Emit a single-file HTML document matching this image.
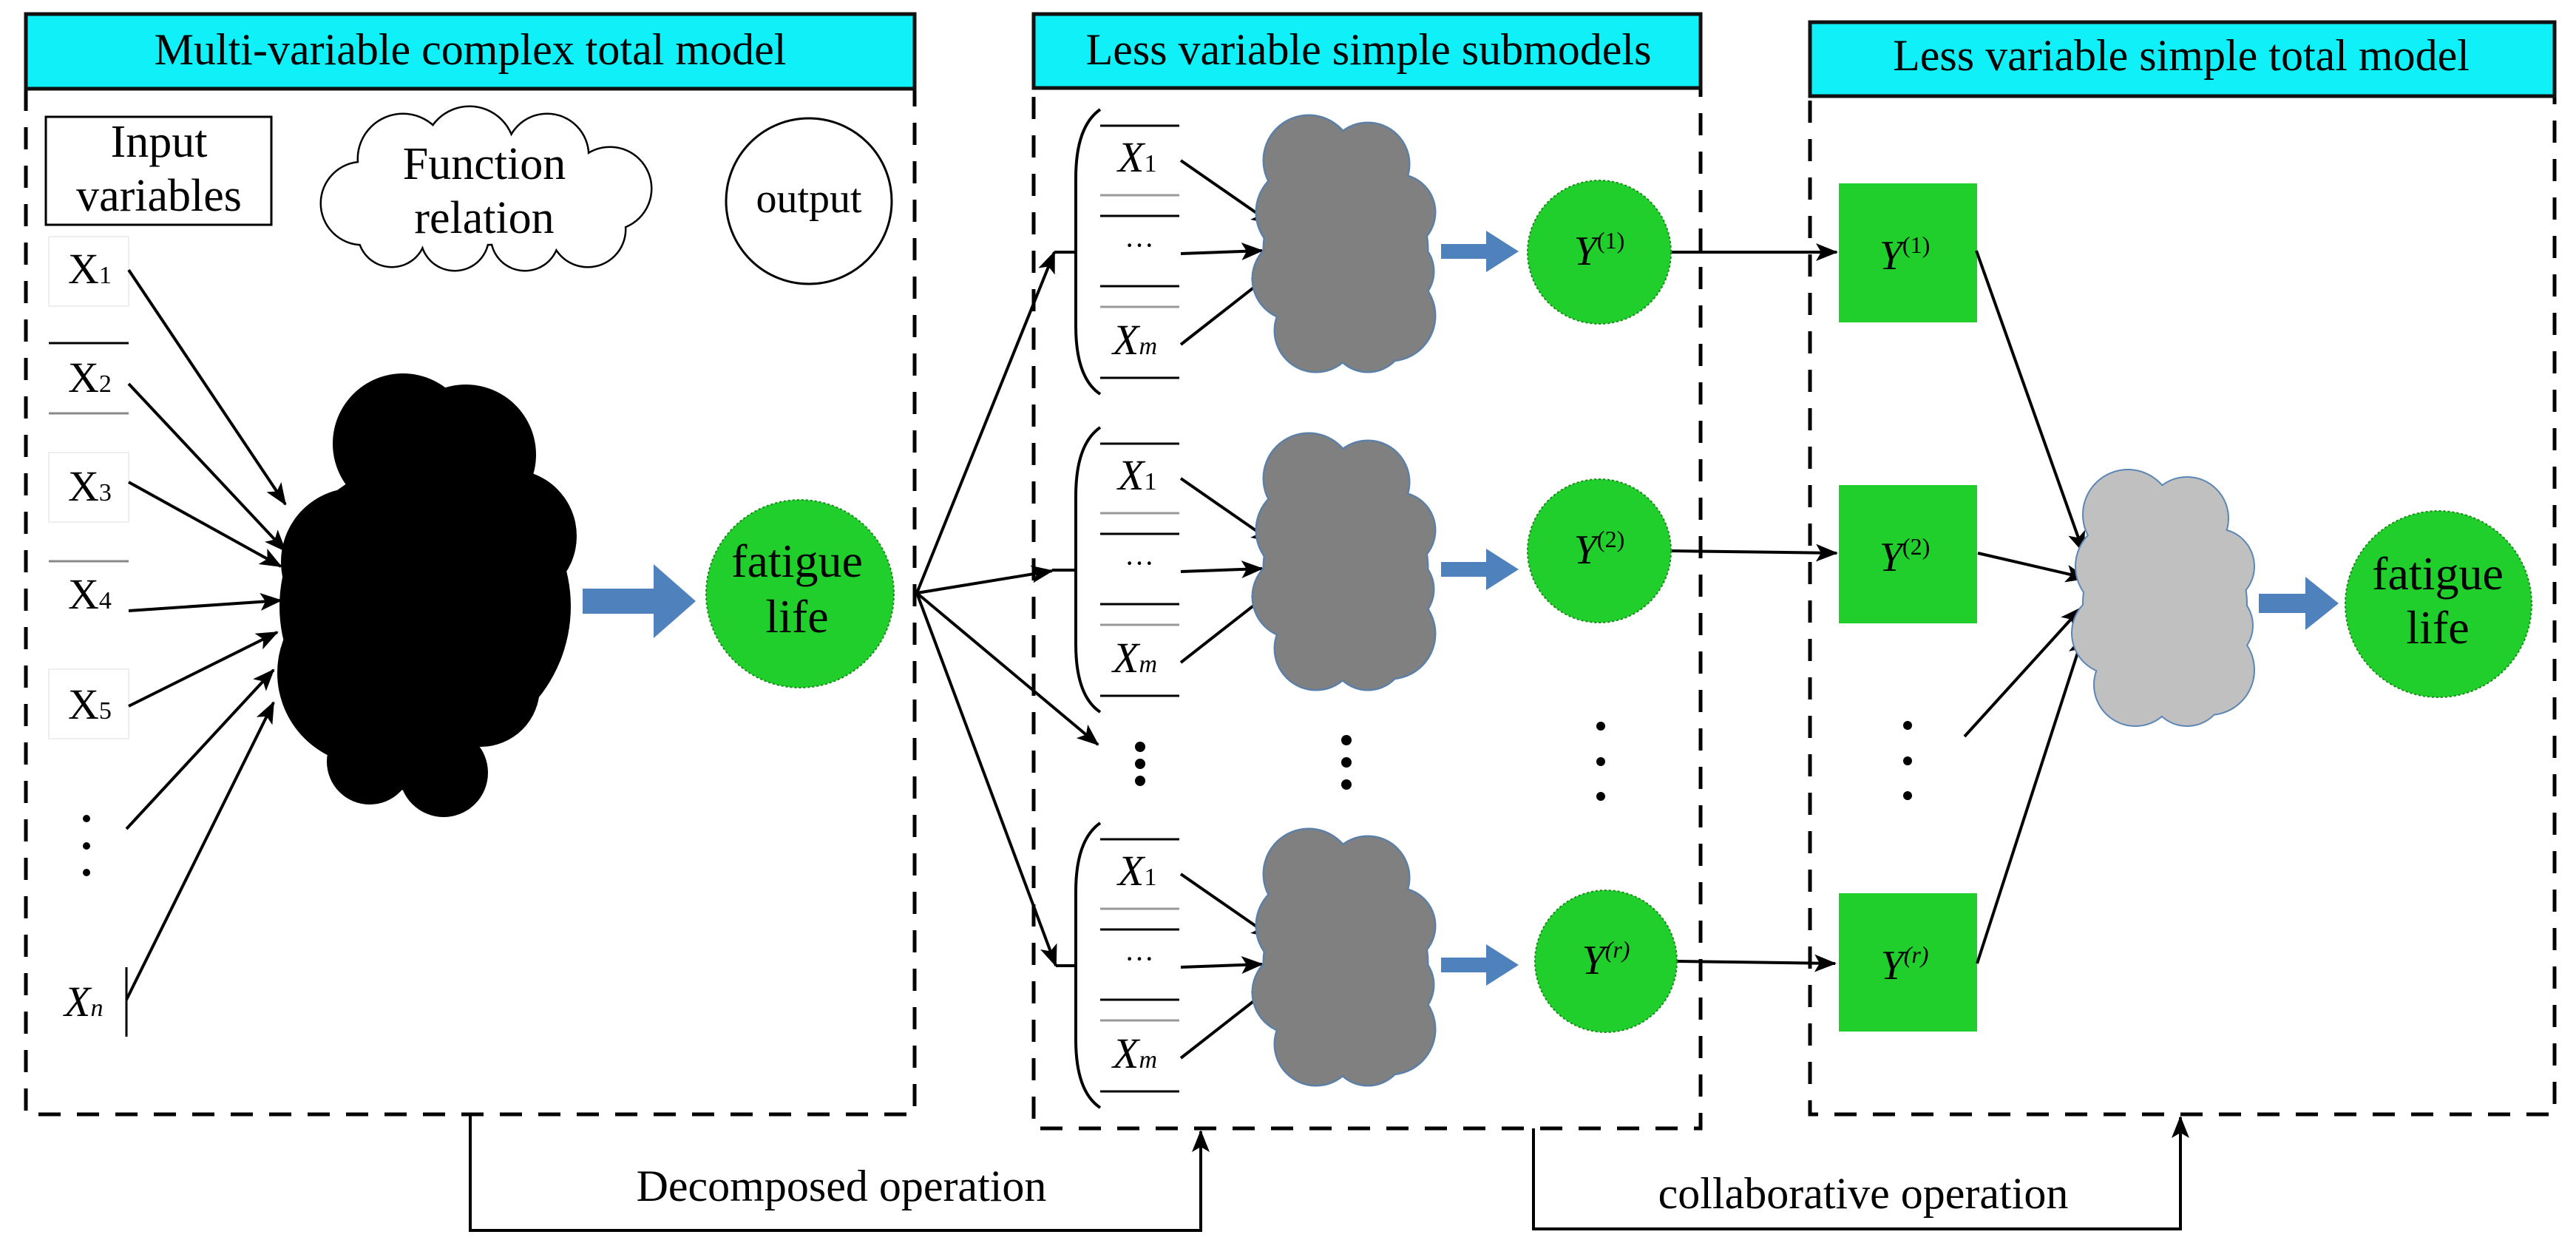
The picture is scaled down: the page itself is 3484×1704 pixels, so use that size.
<!DOCTYPE html>
<html><head><meta charset="utf-8"><style>html,body{margin:0;padding:0;background:#fff}svg{display:block}text,tspan{font-family:"Liberation Serif","Times New Roman",Times,"DejaVu Serif",serif !important}</style></head>
<body>
<svg xmlns="http://www.w3.org/2000/svg" width="3484" height="1704" viewBox="0 0 3484 1704" font-family="Liberation Serif, Times New Roman, serif">
<defs>
<marker id="ah" markerUnits="userSpaceOnUse" markerWidth="30" markerHeight="24" refX="28" refY="12" orient="auto"><path d="M0,0 L30,12 L0,24 L7,12 Z" fill="#000"/></marker>
<g id="cloud">
<circle cx="-50" cy="-120" r="60"/><circle cx="30" cy="-115" r="55"/><circle cx="70" cy="-50" r="50"/>
<circle cx="-60" cy="-50" r="60"/><circle cx="0" cy="0" r="110"/><circle cx="70" cy="30" r="48"/>
<circle cx="-70" cy="40" r="55"/><circle cx="60" cy="90" r="60"/><circle cx="-40" cy="110" r="55"/><circle cx="30" cy="115" r="50"/>
</g>
<g id="fcloud">
<circle cx="-165" cy="15" r="55"/><circle cx="-110" cy="-45" r="60"/><circle cx="-20" cy="-55" r="60"/><circle cx="85" cy="-50" r="55"/>
<circle cx="170" cy="-5" r="55"/><circle cx="140" cy="50" r="50"/><circle cx="55" cy="60" r="45"/><circle cx="-40" cy="60" r="45"/><circle cx="-125" cy="55" r="45"/>
<ellipse cx="0" cy="0" rx="170" ry="70"/>
</g>
</defs>

<rect x="35" y="120" width="1202" height="1387" fill="none" stroke="#000" stroke-width="5" stroke-dasharray="30 22"/>
<rect x="35" y="19" width="1202" height="101" fill="#0ff0f8" stroke="#111" stroke-width="5"/>
<text x="636" y="87" font-size="60" text-anchor="middle">Multi-variable complex total model</text>

<rect x="1398" y="119" width="902" height="1407" fill="none" stroke="#000" stroke-width="5" stroke-dasharray="30 22"/>
<rect x="1398" y="19" width="902" height="100" fill="#0ff0f8" stroke="#111" stroke-width="5"/>
<text x="1851" y="87" font-size="60" text-anchor="middle">Less variable simple submodels</text>

<rect x="2448" y="130" width="1007" height="1377" fill="none" stroke="#000" stroke-width="5" stroke-dasharray="30 22"/>
<rect x="2448" y="30" width="1007" height="100" fill="#0ff0f8" stroke="#111" stroke-width="5"/>
<text x="2950" y="95" font-size="60" text-anchor="middle">Less variable simple total model</text>

<path d="M636,1507 V1664 H1624 V1530" fill="none" stroke="#000" stroke-width="4" marker-end="url(#ah)"/>
<text x="1138" y="1624" font-size="60" text-anchor="middle">Decomposed operation</text>
<path d="M2074,1526 V1662 H2949 V1511" fill="none" stroke="#000" stroke-width="4" marker-end="url(#ah)"/>
<text x="2520" y="1634" font-size="60" text-anchor="middle">collaborative operation</text>

<rect x="62" y="158" width="305" height="146" fill="#fff" stroke="#000" stroke-width="3"/>
<text x="215" y="212" font-size="62" text-anchor="middle">Input</text>
<text x="215" y="285" font-size="62" text-anchor="middle">variables</text>
<g transform="translate(655,260)"><use href="#fcloud" fill="none" stroke="#000" stroke-width="5"/><use href="#fcloud" fill="#fff"/></g>
<text x="655" y="242" font-size="62" text-anchor="middle">Function</text>
<text x="655" y="315" font-size="62" text-anchor="middle">relation</text>
<circle cx="1094" cy="272" r="112" fill="#fff" stroke="#000" stroke-width="3"/>
<text x="1094" y="287" font-size="56" text-anchor="middle">output</text>

<g stroke="#eee" stroke-width="2" fill="none">
<rect x="66" y="320" width="108" height="94"/><rect x="66" y="612" width="108" height="94"/><rect x="66" y="905" width="108" height="94"/>
</g>
<g stroke="#000" stroke-width="3">
<line x1="66" y1="464" x2="174" y2="464"/><line x1="66" y1="559" x2="174" y2="559" stroke="#888"/>
<line x1="66" y1="759" x2="174" y2="759" stroke="#888"/>
<line x1="171" y1="1308" x2="171" y2="1402"/>
</g>
<g font-size="58">
<text x="92" y="383">X<tspan font-size="34">1</tspan></text>
<text x="92" y="530">X<tspan font-size="34">2</tspan></text>
<text x="92" y="677">X<tspan font-size="34">3</tspan></text>
<text x="92" y="823">X<tspan font-size="34">4</tspan></text>
<text x="92" y="972">X<tspan font-size="34">5</tspan></text>
<text x="87" y="1374" font-style="italic">X<tspan font-size="34">n</tspan></text>
</g>
<g fill="#000"><circle cx="117" cy="1107" r="5"/><circle cx="117" cy="1144" r="5"/><circle cx="117" cy="1180" r="5"/></g>

<g fill="#000">
<circle cx="545" cy="600" r="95"/><circle cx="630" cy="615" r="95"/><circle cx="690" cy="725" r="90"/>
<circle cx="480" cy="760" r="100"/><circle cx="575" cy="820" r="197"/><circle cx="500" cy="910" r="125"/>
<circle cx="650" cy="930" r="80"/><circle cx="500" cy="1030" r="58"/><circle cx="600" cy="1045" r="60"/>
<circle cx="560" cy="980" r="90"/>
</g>

<g stroke="#000" stroke-width="4" marker-end="url(#ah)">
<line x1="174" y1="365" x2="386" y2="682"/>
<line x1="174" y1="519" x2="386" y2="745"/>
<line x1="174" y1="652" x2="380" y2="766"/>
<line x1="174" y1="826" x2="380" y2="812"/>
<line x1="174" y1="955" x2="375" y2="855"/>
<line x1="171" y1="1121" x2="370" y2="906"/>
<line x1="171" y1="1352" x2="370" y2="950"/>
</g>

<path d="M788,796 H884 V763 L941,813 L884,863 V830 H788 Z" fill="#4f81bd"/>
<circle cx="1082" cy="803" r="127" fill="#20cf2b" stroke="#1a8a1a" stroke-width="2" stroke-dasharray="3 3"/>
<text x="1078" y="780" font-size="64" text-anchor="middle">fatigue</text>
<text x="1078" y="855" font-size="64" text-anchor="middle">life</text>

<g stroke="#000" stroke-width="4" marker-end="url(#ah)">
<line x1="1240" y1="802" x2="1426" y2="341"/>
<line x1="1240" y1="802" x2="1423" y2="772"/>
<line x1="1240" y1="802" x2="1485" y2="1007"/>
<line x1="1240" y1="802" x2="1428" y2="1306"/>
</g>
<g stroke="#000" stroke-width="4">
<line x1="1426" y1="341" x2="1455" y2="341"/><line x1="1423" y1="771" x2="1455" y2="771"/><line x1="1428" y1="1306" x2="1455" y2="1306"/>
</g>

<g id="grp1" transform="translate(0,341)">
<path d="M1488,-193 Q1455,-170 1455,-100 V100 Q1455,170 1488,192" fill="none" stroke="#000" stroke-width="4"/>
<g stroke="#000" stroke-width="3">
<line x1="1488" y1="-171" x2="1595" y2="-171"/><line x1="1488" y1="-77" x2="1595" y2="-77" stroke="#999"/>
<line x1="1488" y1="-49" x2="1595" y2="-49"/><line x1="1488" y1="46" x2="1595" y2="46"/>
<line x1="1488" y1="74" x2="1595" y2="74" stroke="#999"/><line x1="1488" y1="170" x2="1595" y2="170"/>
</g>
<text x="1512" y="-109" font-size="58" font-style="italic">X<tspan font-size="34" font-style="normal">1</tspan></text>
<text x="1541" y="4" font-size="40" text-anchor="middle">···</text>
<text x="1505" y="138" font-size="58" font-style="italic">X<tspan font-size="34">m</tspan></text>
<g stroke="#000" stroke-width="4" marker-end="url(#ah)">
<line x1="1597" y1="-124" x2="1721" y2="-38"/>
<line x1="1597" y1="2" x2="1707" y2="-2"/>
<line x1="1597" y1="125" x2="1721" y2="28"/>
</g>
<g transform="translate(1820,-4)"><use href="#cloud" fill="none" stroke="#5b7fa6" stroke-width="5"/><use href="#cloud" fill="#808080"/></g>
<path d="M1949,-11 H2010 V-29 L2054,-1 L2010,27 V9 H1949 Z" fill="#4f81bd"/>
</g>
<use href="#grp1" transform="translate(0,430)"/>
<use href="#grp1" transform="translate(0,965)"/>

<g fill="#000">
<circle cx="1542" cy="1010" r="7"/><circle cx="1542" cy="1033" r="7"/><circle cx="1542" cy="1056" r="7"/>
<circle cx="1821" cy="1001" r="7"/><circle cx="1821" cy="1031" r="7"/><circle cx="1821" cy="1061" r="7"/>
<circle cx="2165" cy="982" r="6"/><circle cx="2165" cy="1030" r="6"/><circle cx="2165" cy="1077" r="6"/>
<circle cx="2580" cy="981" r="6"/><circle cx="2580" cy="1029" r="6"/><circle cx="2580" cy="1076" r="6"/>
</g>

<g fill="#20cf2b" stroke="#1a8a1a" stroke-width="2" stroke-dasharray="3 3">
<circle cx="2163" cy="341" r="97"/><circle cx="2163" cy="745" r="97"/><circle cx="2172" cy="1300" r="96"/>
</g>
<g font-size="56" font-style="italic" text-anchor="middle">
<text x="2163" y="358">Y<tspan font-size="32" font-style="normal" dy="-22">(1)</tspan></text>
<text x="2163" y="762">Y<tspan font-size="32" font-style="normal" dy="-22">(2)</tspan></text>
<text x="2172" y="1317">Y<tspan font-size="32" dy="-22">(r)</tspan></text>
</g>
<g stroke="#000" stroke-width="4" marker-end="url(#ah)">
<line x1="2261" y1="341" x2="2484" y2="341"/>
<line x1="2261" y1="745" x2="2484" y2="748"/>
<line x1="2269" y1="1300" x2="2482" y2="1303"/>
</g>

<g fill="#20cf2b"><rect x="2487" y="248" width="187" height="188"/><rect x="2487" y="656" width="187" height="187"/><rect x="2487" y="1208" width="187" height="187"/></g>
<g font-size="56" font-style="italic" text-anchor="middle">
<text x="2576" y="364">Y<tspan font-size="32" font-style="normal" dy="-22">(1)</tspan></text>
<text x="2576" y="772">Y<tspan font-size="32" font-style="normal" dy="-22">(2)</tspan></text>
<text x="2576" y="1324">Y<tspan font-size="32" dy="-22">(r)</tspan></text>
</g>
<g stroke="#000" stroke-width="4" marker-end="url(#ah)">
<line x1="2673" y1="339" x2="2818" y2="747"/>
<line x1="2675" y1="748" x2="2822" y2="782"/>
<line x1="2657" y1="996" x2="2815" y2="822"/>
<line x1="2674" y1="1303" x2="2818" y2="858"/>
</g>
<g transform="translate(2928,816)"><use href="#cloud" fill="none" stroke="#5b86b5" stroke-width="4"/><use href="#cloud" fill="#c0c0c0"/></g>
<path d="M3055,803 H3118 V780 L3163,816 L3118,852 V829 H3055 Z" fill="#4f81bd"/>
<circle cx="3298" cy="817" r="126" fill="#20cf2b" stroke="#1a8a1a" stroke-width="2" stroke-dasharray="3 3"/>
<text x="3297" y="797" font-size="64" text-anchor="middle">fatigue</text>
<text x="3297" y="870" font-size="64" text-anchor="middle">life</text>
</svg>
</body></html>
